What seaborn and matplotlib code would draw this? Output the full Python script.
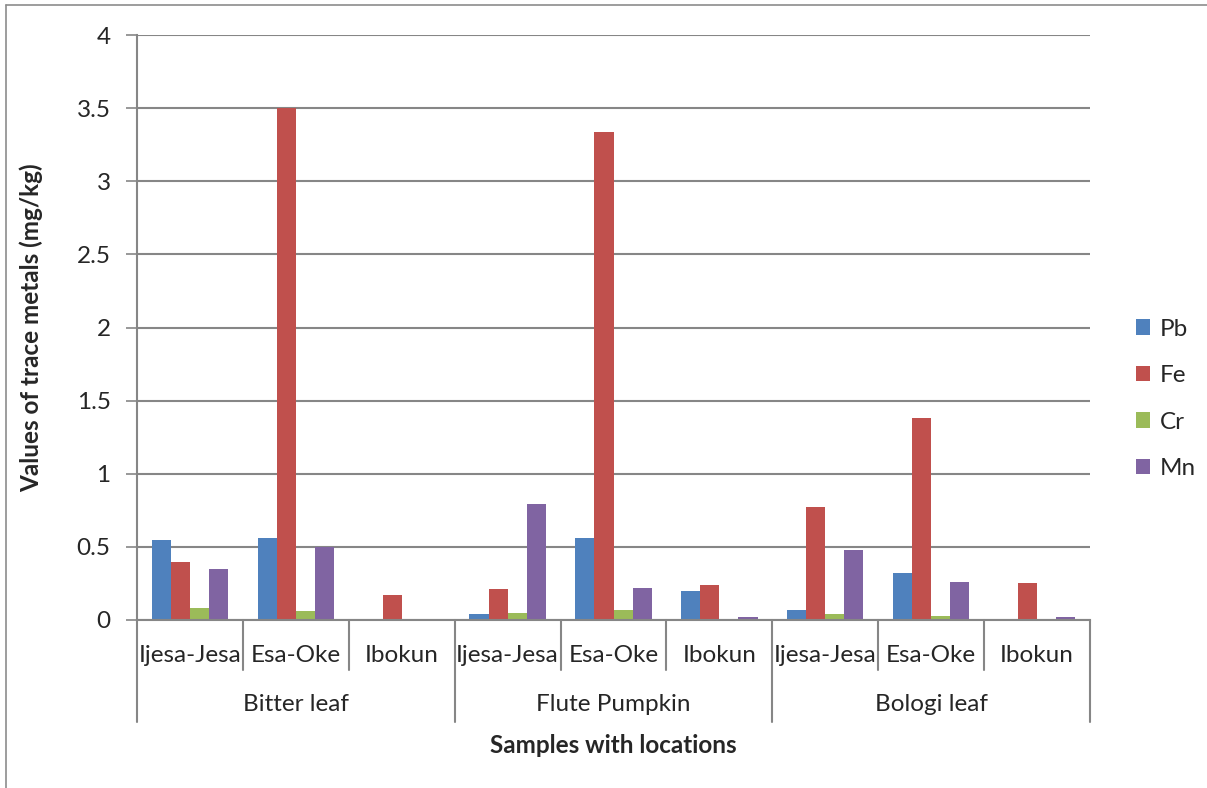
import matplotlib
matplotlib.use("Agg")
import matplotlib.pyplot as plt
from matplotlib.lines import Line2D
import seaborn as sns
import pandas as pd

# --- data ---
plants = ["Bitter leaf", "Flute Pumpkin", "Bologi leaf"]
locations = ["Ijesa-Jesa", "Esa-Oke", "Ibokun"]
metals = ["Pb", "Fe", "Cr", "Mn"]

pb = [0.55, 0.56, 0.005, 0.04, 0.56, 0.20, 0.07, 0.32, 0.005]
fe = [0.40, 3.50, 0.17, 0.21, 3.34, 0.24, 0.77, 1.38, 0.25]
cr = [0.08, 0.06, 0.0, 0.05, 0.07, 0.0, 0.04, 0.03, 0.0]
mn = [0.35, 0.50, 0.005, 0.79, 0.22, 0.02, 0.48, 0.26, 0.02]

colors = ["#4F81BD", "#C0504D", "#9BBB59", "#8064A2"]

# long-form table for seaborn
samples = [f"{p}|{l}" for p in plants for l in locations]
rows = []
for metal, vals in zip(metals, [pb, fe, cr, mn]):
    for s, v in zip(samples, vals):
        rows.append({"sample": s, "metal": metal, "value": v})
df = pd.DataFrame(rows)

sns.set_style("white")
plt.rcParams["font.family"] = ["Lato", "DejaVu Sans"]
FS = 17.5

fig = plt.figure(figsize=(12.07, 7.88), dpi=100)
ax = fig.add_axes([137 / 1207, 1 - 620 / 788, (1090 - 137) / 1207, (620 - 35) / 788])

sns.barplot(data=df, x="sample", y="value", hue="metal", order=samples,
            hue_order=metals, palette=colors, width=0.72, ax=ax,
            edgecolor="none", saturation=1)

grid_c = "#868686"
ax.set_ylim(0, 4)
ax.set_xlim(-0.5, len(samples) - 0.5)
ax.set_yticks([0, 0.5, 1, 1.5, 2, 2.5, 3, 3.5, 4])
ax.set_yticklabels(["0", "0.5", "1", "1.5", "2", "2.5", "3", "3.5", "4"], fontsize=FS)
ax.yaxis.grid(True, color=grid_c, linewidth=1.5)
ax.set_axisbelow(True)
ax.tick_params(axis="y", direction="out", length=8, width=1.2, color=grid_c, pad=11, left=True)
for side in ["top", "right"]:
    ax.spines[side].set_visible(False)
for side in ["left", "bottom"]:
    ax.spines[side].set_color(grid_c)
    ax.spines[side].set_linewidth(1.5)

ax.set_xticks([])
ax.set_xlabel("")
ax.set_ylabel("Values of trace metals (mg/kg)", fontsize=FS, fontweight="bold")
ax.yaxis.set_label_coords(-0.099, 0.5)

# hierarchical category axis
tr = ax.get_xaxis_transform()
for i in range(len(samples) + 1):
    bottom = -0.174 if i % 3 == 0 else -0.0855
    ax.plot([i - 0.5, i - 0.5], [0, bottom], color=grid_c, lw=1.5,
            transform=tr, clip_on=False)
for i, s in enumerate(samples):
    ax.text(i, -0.06, s.split("|")[1], transform=tr, ha="center", va="center",
            fontsize=FS)
for j, p in enumerate(plants):
    ax.text(3 * j + 1, -0.145, p, transform=tr, ha="center", va="center", fontsize=FS)
ax.text(0.5, -0.214, "Samples with locations", transform=ax.transAxes,
        ha="center", va="center", fontsize=FS, fontweight="bold")

# legend
leg = ax.legend(loc="center left", bbox_to_anchor=(1.025, 0.378), frameon=False,
                fontsize=FS, handlelength=0.6, handleheight=0.6,
                labelspacing=1.05, handletextpad=0.4)
leg.set_title(None)

# chart border
fig.add_artist(Line2D([6 / 1207, 6 / 1207], [0, 1 - 5 / 788], color="#8c8c8c", lw=1.2))
fig.add_artist(Line2D([6 / 1207, 1], [1 - 5 / 788, 1 - 5 / 788], color="#8c8c8c", lw=1.2))

fig.savefig("out.png", dpi=100)
